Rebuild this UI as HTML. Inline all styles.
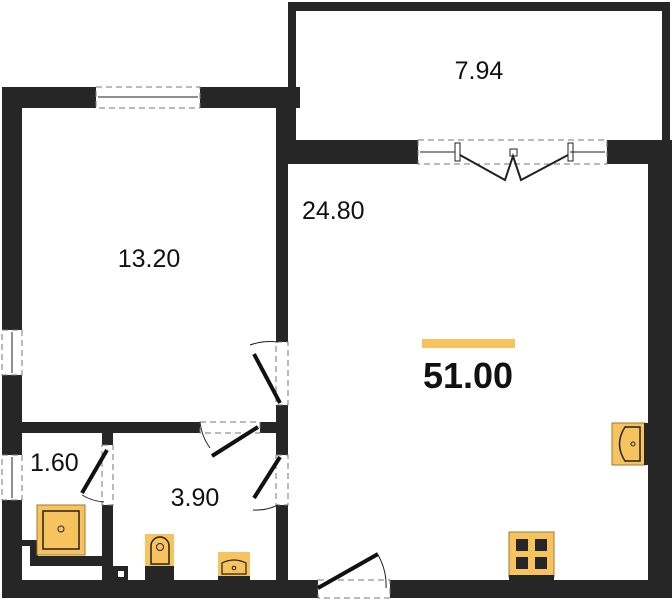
<!DOCTYPE html>
<html><head><style>body{margin:0;background:#fff}svg{display:block}text{font-family:"Liberation Sans",sans-serif;fill:#111}</style></head><body>
<svg width="672" height="600" viewBox="0 0 672 600">
<g fill="#262626">
<rect x="288" y="2" width="382" height="9"/>
<rect x="288" y="2" width="8" height="160"/>
<rect x="662" y="2" width="8" height="145"/>
<rect x="288" y="140" width="130" height="24"/>
<rect x="607" y="140" width="65" height="24"/>
<rect x="648" y="140" width="24" height="458"/>
<rect x="2" y="87" width="94" height="21"/>
<rect x="200" y="87" width="100" height="21"/>
<rect x="2" y="87" width="20" height="243"/>
<rect x="2" y="375" width="20" height="80"/>
<rect x="2" y="500" width="20" height="98"/>
<rect x="276" y="87" width="12" height="255"/>
<rect x="276" y="405" width="12" height="50"/>
<rect x="276" y="505" width="12" height="80"/>
<rect x="22" y="422" width="178" height="11"/>
<rect x="260" y="422" width="28" height="11"/>
<rect x="102" y="433" width="11" height="12"/>
<rect x="102" y="505" width="11" height="80"/>
<rect x="2" y="580" width="316" height="18"/>
<rect x="390" y="580" width="282" height="18"/>
<rect x="22" y="540" width="16" height="6"/>
<rect x="30" y="540" width="8" height="25"/>
<rect x="30" y="556" width="72" height="10"/>
<rect x="112" y="566" width="16" height="14"/>
<rect x="118" y="571" width="6" height="6" fill="#fff"/>
</g>
<g fill="none" stroke="#777" stroke-dasharray="6,4" stroke-width="1">
<rect x="96" y="87" width="104" height="21"/>
<rect x="418" y="140" width="189" height="24"/>
<rect x="2" y="330" width="20" height="45"/>
<rect x="2" y="455" width="20" height="45"/>
<rect x="200" y="422" width="60" height="11"/>
<rect x="102" y="445" width="11" height="60"/>
<rect x="276" y="342" width="12" height="63"/>
<rect x="276" y="455" width="12" height="50"/>
<rect x="318" y="580" width="72" height="18"/>
</g>
<g stroke="#222" stroke-width="1" fill="none">
<line x1="98" y1="97" x2="198" y2="97"/>
<line x1="12" y1="332" x2="12" y2="373"/>
<line x1="12" y1="457" x2="12" y2="498"/>
<line x1="420" y1="152" x2="455" y2="152"/>
<line x1="570" y1="152" x2="605" y2="152"/>
<rect x="455" y="143" width="5" height="18"/>
<rect x="568" y="143" width="5" height="18"/>
<rect x="510" y="149" width="7" height="7"/>
<polyline points="460,155 505,180 513,156 521,180 568,155" stroke-width="2"/>
<path d="M250 345 A60 60 0 0 1 278 342"/>
<path d="M253 510 A50 50 0 0 0 278 505"/>
<path d="M82 495 A50 50 0 0 0 104 502"/>
<path d="M210 448 A55 55 0 0 1 200 422"/>
<path d="M378 555 A60 60 0 0 1 386 588"/>
</g>
<g stroke="#111" stroke-width="4">
<line x1="254" y1="354" x2="280" y2="403"/>
<line x1="254" y1="498" x2="280" y2="457"/>
<line x1="82" y1="493" x2="107" y2="450"/>
<line x1="212" y1="456" x2="258" y2="427"/>
<line x1="318" y1="588" x2="378" y2="554"/>
</g>
<rect x="37" y="505" width="48" height="50" fill="#f7c35f" stroke="#a07a30"/>
<rect x="43" y="511" width="36" height="38" fill="none" stroke="#222" stroke-width="1.5"/>
<circle cx="61" cy="529" r="3" fill="none" stroke="#222"/>
<rect x="145" y="534" width="29" height="32" fill="#f7c35f"/>
<rect x="145" y="566" width="29" height="14" fill="#262626"/>
<path d="M151 564 V546 A9 9 0 0 1 169 546 V564 Z" fill="none" stroke="#222" stroke-width="1.5"/>
<circle cx="160" cy="547" r="3.5" fill="none" stroke="#222"/>
<rect x="218" y="552" width="32" height="26" fill="#f7c35f"/>
<rect x="218" y="576" width="32" height="4" fill="#262626"/>
<path d="M222 574 V563 Q234 557 246 563 V574 Z" fill="none" stroke="#222" stroke-width="1.2"/>
<circle cx="234" cy="568" r="1.8" fill="none" stroke="#222"/>
<rect x="612" y="423" width="33" height="42" fill="#f7c35f" stroke="#a07a30"/>
<rect x="644" y="423" width="4" height="42" fill="#262626"/>
<path d="M640 427 H625 Q614 444 625 461 H640 Z" fill="none" stroke="#222" stroke-width="1.5"/>
<circle cx="633" cy="444" r="2" fill="none" stroke="#222"/>
<rect x="509" y="532" width="45" height="45" fill="#f7c35f" stroke="#a07a30"/>
<rect x="509" y="575" width="45" height="5" fill="#262626"/>
<g fill="#262626"><rect x="516" y="539" width="12" height="12"/><rect x="535" y="539" width="12" height="12"/><rect x="516" y="557" width="12" height="12"/><rect x="535" y="557" width="12" height="12"/></g>
<rect x="422" y="339" width="93" height="9" fill="#f7c35f"/>
<text x="479" y="79" font-size="25" text-anchor="middle">7.94</text>
<text x="302" y="219" font-size="25">24.80</text>
<text x="149" y="267" font-size="25" text-anchor="middle">13.20</text>
<text x="30" y="471" font-size="25">1.60</text>
<text x="195" y="506" font-size="25" text-anchor="middle">3.90</text>
<text x="468" y="388" font-size="36" font-weight="bold" text-anchor="middle">51.00</text>
</svg>
</body></html>
